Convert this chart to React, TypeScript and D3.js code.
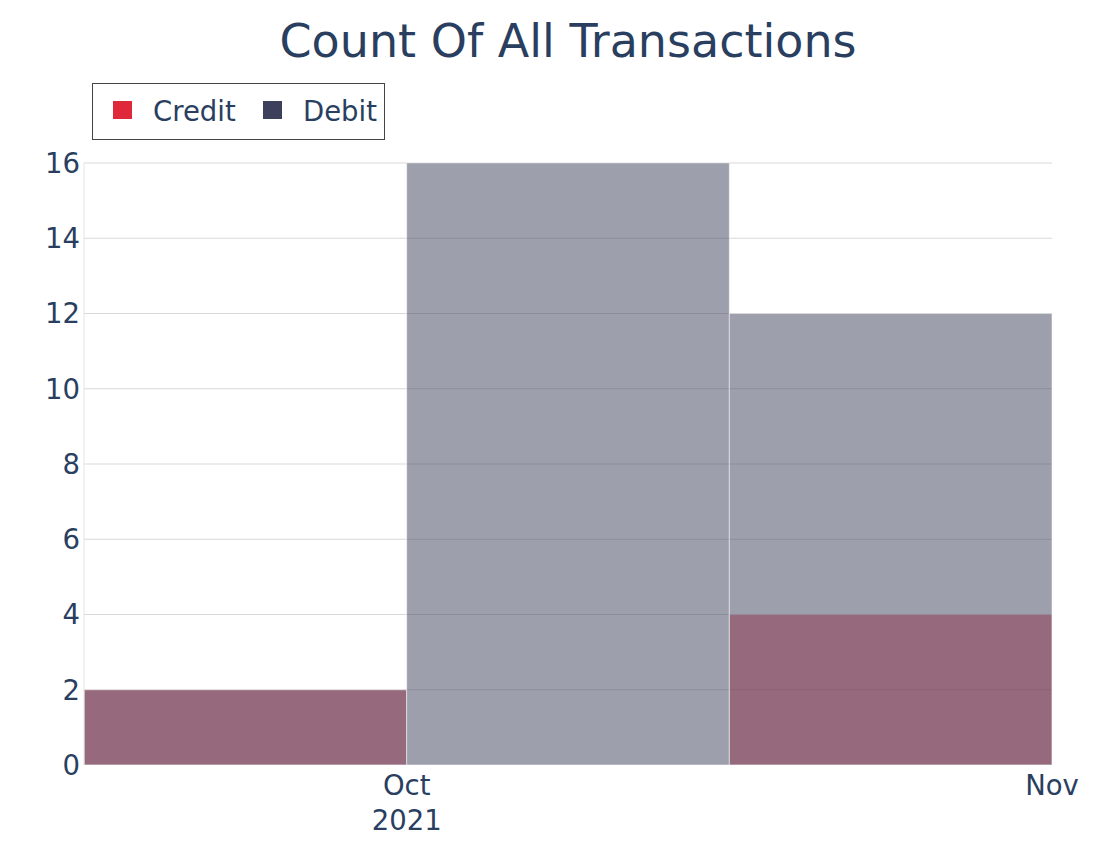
import React from "react";
import * as d3 from "d3";

const binEdges = ["2021-09-15T12:00:00", "2021-10-01T00:00:00", "2021-10-16T12:00:00", "2021-11-01T00:00:00"];
const creditCounts = [2, 0, 4];
const debitCounts = [2, 16, 12];
const yTicks = [0, 2, 4, 6, 8, 10, 12, 14, 16];
const xTickDates = ["2021-10-01T00:00:00", "2021-11-01T00:00:00"];
const xTickLabels = [["Oct", "2021"], ["Nov"]];
const seriesNames = ["Credit", "Debit"];
const seriesColors = ["#e0283b", "#3d405b"];

const W = 1103, H = 847;
const M = { left: 84, right: 1052, top: 163, bottom: 765 };
const FONT = "'DejaVu Sans', Verdana, sans-serif";
const TXT = "#2a3f5f";

export default function App() {
  const parse = (s: string) => new Date(s);
  const x = d3.scaleTime()
    .domain([parse(binEdges[0]), parse(binEdges[binEdges.length - 1])])
    .range([M.left, M.right]);
  const y = d3.scaleLinear().domain([0, 16]).range([M.bottom, M.top]);

  const series = [creditCounts, debitCounts];

  return (
    <svg width={W} height={H} style={{ position: "absolute", left: 0, top: 0, fontFamily: FONT }}>
      <rect x={0} y={0} width={W} height={H} fill="#fff" />
      {yTicks.filter(t => t > 0).map(t => (
        <line key={t} x1={M.left} x2={M.right} y1={y(t)} y2={y(t)} stroke="#d9d9d9" strokeWidth={1} />
      ))}
      {series.map((vals, si) => (
        <g key={si}>
          {vals.map((v, i) => {
            const x0 = x(parse(binEdges[i]));
            const x1 = x(parse(binEdges[i + 1]));
            if (v <= 0) return null;
            return (
              <rect key={i} x={x0} y={y(v)} width={x1 - x0} height={y(0) - y(v)}
                fill={seriesColors[si]} fillOpacity={0.5}
                stroke="#ffffff" strokeOpacity={0.5} strokeWidth={1} />
            );
          })}
        </g>
      ))}
      <line x1={M.left} x2={M.left} y1={M.top} y2={M.bottom} stroke="#e5e5e5" strokeWidth={1} />
      {yTicks.map(t => (
        <text key={t} x={M.left - 4} y={y(t)} dy="0.36em" textAnchor="end" fontSize={27.5} fill={TXT}>{t}</text>
      ))}
      {xTickDates.map((d, i) => (
        <text key={d} x={x(parse(d))} y={795} textAnchor="middle" fontSize={27.5} fill={TXT}>
          {xTickLabels[i].map((l, j) => (
            <tspan key={j} x={x(parse(d))} dy={j === 0 ? 0 : 35}>{l}</tspan>
          ))}
        </text>
      ))}
      <text x={(M.left + M.right) / 2} y={57} textAnchor="middle" fontSize={46} fill={TXT}>Count Of All Transactions</text>
      <g>
        <rect x={92.5} y={83.5} width={292} height={56} fill="#fff" stroke="#444" strokeWidth={1} />
        {seriesNames.map((n, i) => {
          const ox = i === 0 ? 113 : 263;
          return (
            <g key={n}>
              <rect x={ox} y={101} width={19} height={18} fill={seriesColors[i]} />
              <text x={ox + 40} y={121} fontSize={27.5} fill={TXT}>{n}</text>
            </g>
          );
        })}
      </g>
    </svg>
  );
}
